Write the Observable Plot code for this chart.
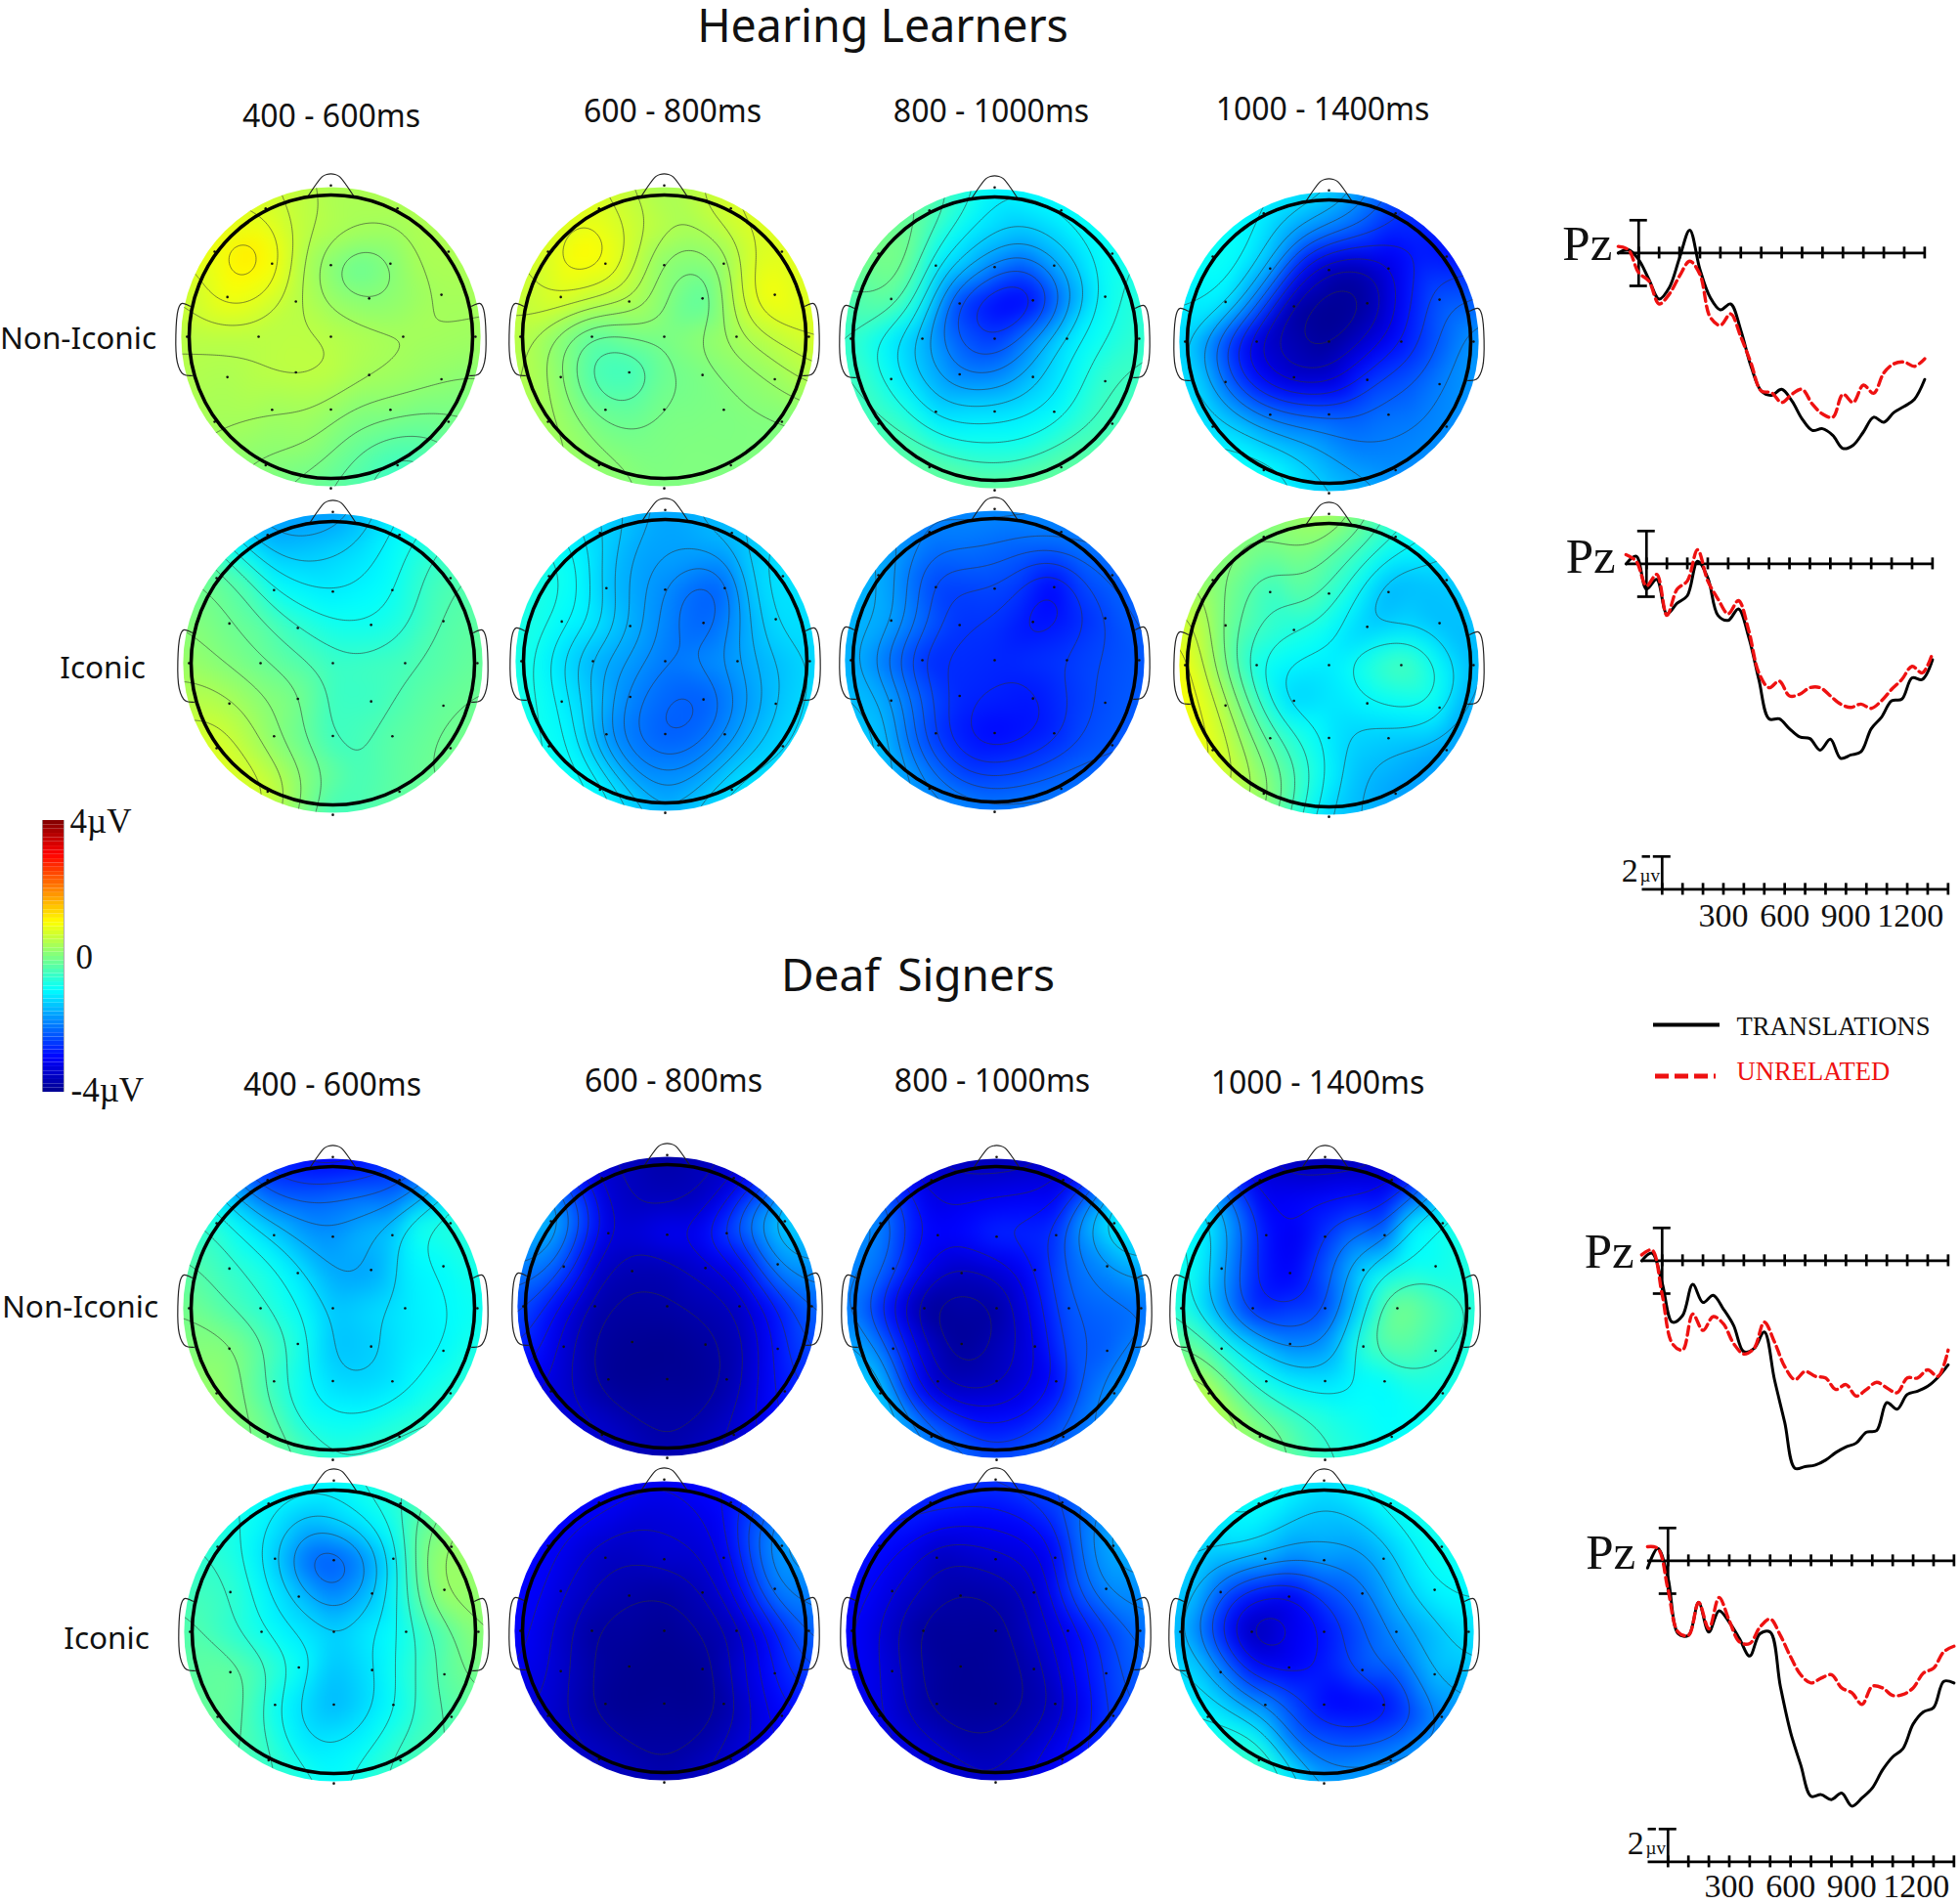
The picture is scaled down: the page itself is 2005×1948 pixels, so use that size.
<!DOCTYPE html>
<html><head><meta charset="utf-8">
<script src="https://cdn.jsdelivr.net/npm/d3@7"></script>
<script src="https://cdn.jsdelivr.net/npm/@observablehq/plot@0.6"></script>
<style>
html,body{margin:0;padding:0;background:#fff}
#fig{position:relative;width:2005px;height:1948px;overflow:hidden;background:#fff}
#fig>svg{position:absolute;overflow:visible;background:transparent}
.lab{position:absolute;transform:translate(-50%,-50%);white-space:nowrap;line-height:1;color:#111;font-family:"Noto Sans",sans-serif}
</style></head><body><div id="fig"></div>
<script>
// Scalp sites (head-radius units): the 29 plotted electrodes, then 18 read-off sites between them
const electrodeNames=["FPz","Fp1","Fp2","F7","F3","Fz","F4","F8","FT7","FC3","FC4","FT8","T7","C3","Cz","C4","T8","TP7","CP3","CP4","TP8","P7","P3","Pz","P4","P8","O1","Oz","O2"];
const siteX=[0,-.46,.47,-.82,-.415,0,.42,.83,-.73,-.247,.27,.78,-1.015,-.51,0,.51,1.02,-.73,-.247,.27,.78,-.82,-.415,0,.42,.83,-.46,0,.47,
  -.6,.6,-.2,.2,-.5,.52,-.5,.52,-.62,.62,-.2,.2,0,0,-.2,.2,-.2,.2];
const siteY=[1.067,.905,.905,.6,.516,.505,.516,.6,.28,.248,.27,.296,0,0,0,0,0,-.285,-.252,-.27,-.3,-.6,-.516,-.514,-.516,-.6,-.907,-1.07,-.907,
  .62,.62,.75,.75,.25,.27,-.27,-.27,-.62,-.62,-.78,-.78,.25,-.25,.5,.5,-.5,-.5];
// Amplitudes (µV) at those sites
const hearingNon400=[.35,.7,.35,.85,1,.05,0,.35,.95,.45,.05,.3,.45,.45,.45,.3,.25,.35,.5,.3,.15,.3,.25,.2,.05,-.1,.05,-.25,-.55, 1.25,.35,.5,.3,.75,.15,.45,.25,.3,-.15,.15,-.2,.2,.5,.35,-.25,.3,.05];
const hearingNon600=[.3,.75,.7,.7,.95,.05,.15,.75,.8,.4,-.35,1,.45,-.3,-.02,.3,.7,.1,-.55,-.05,.2,.3,-.2,-.05,-.02,0,.15,0,0, 1.1,.65,.6,.3,.5,.6,-.45,.1,.1,0,-.05,0,.05,-.15,.5,0,-.25,-.05];
const hearingNon800=[-1.05,-.3,-1,-.05,-1.1,-2,-1.7,-.9,-.2,-2.6,-3,-.95,-.6,-1.6,-2.6,-1.2,-.6,-1,-2,-1.5,-.55,-.45,-1.3,-1.25,-1.05,-.45,-.25,-.2,-.25, -.05,-1.2,-1.1,-1.5,-1,-1.9,-1.5,-1.1,-.6,-.6,-.8,-.8,-3,-2,-1.5,-2.4,-1.3,-1.2];
const hearingNon1000=[-1.3,-1.1,-2.6,-.9,-1.6,-3.7,-3.3,-2.9,-1.1,-3.85,-3.85,-2.3,-1.3,-3.4,-3.95,-2.9,-1.8,-2.2,-3.5,-2.6,-2,-1.2,-2.1,-2.25,-2.1,-1.9,-.9,-1.4,-1.9, -1,-2.8,-1.9,-2.4,-2.2,-3,-3,-2.4,-1.4,-2,-1.5,-2,-3.98,-3.5,-3.1,-3.8,-2.3,-2.3];
const hearingIco400=[-1.8,-1.7,-1,-.2,-.95,-1.15,-.95,-.4,-.15,-.6,-.9,-.35,.2,-.15,-.55,-.45,-.2,.35,-.05,-.55,-.2,.75,.05,-.55,-.3,-.1,.65,-.5,-.25, -.5,-.65,-1.4,-1.2,-.25,-.7,.1,-.35,.5,-.2,.05,-.45,-.85,-.55,-1.05,-1.05,-.2,-.45];
const hearingIco600=[-1.7,-1.3,-1.5,-.8,-1.5,-1.9,-2.25,-1.2,-1,-1.6,-2.25,-1.25,-.8,-1.6,-2.05,-1.75,-1.3,-1.1,-1.95,-2.3,-1.5,-.9,-1.9,-2.3,-1.95,-1.3,-1,-1.6,-1.2, -1,-1.35,-1.7,-1.75,-1.15,-1.8,-1.45,-1.9,-1.1,-1.5,-1.9,-1.9,-1.95,-2.2,-1.7,-2.2,-2.1,-2.25];
const hearingIco800=[-1.9,-2,-2,-1.6,-2.5,-2.45,-3.05,-2.2,-1.7,-2.6,-2.9,-2.5,-1.6,-2.65,-2.7,-2.55,-2.3,-1.75,-2.7,-2.85,-2.4,-1.4,-2.6,-3,-2.75,-2.3,-1.9,-2,-2.1, -2.1,-2.4,-2.15,-2.3,-2.2,-2.8,-2.3,-2.6,-2.1,-2.4,-2.6,-2.5,-2.6,-2.75,-2.5,-2.6,-2.85,-2.9];
const hearingIco1000=[.35,0,-.8,.1,-.6,-.55,-1.65,-1.4,-.15,-.75,-1.45,-1.55,.95,-.9,-1.15,-.35,-1.55,.35,-1.4,-1.05,-.95,.85,-.35,-1.15,-1.4,-1.75,.2,-1.35,-1.75, -.2,-1.5,-.05,-.6,-.5,-1.3,-.5,-.95,.3,-1.6,-.55,-1.5,-.95,-1.2,-.25,-1,-.8,-1.35];
const deafNon400=[-3.1,-2.6,-2.5,-.7,-1.35,-1.85,-1.45,-.7,-.6,-1.15,-1.75,-1,-.1,-.65,-1.45,-1.15,-.9,.05,-.75,-1.4,-1.05,.2,-.6,-1.3,-1.25,-.7,-.1,-.65,-.6, -1.2,-.8,-2.2,-2,-.75,-1.1,-.3,-1.15,-.1,-.9,-.9,-1,-1.7,-1.5,-1.75,-1.55,-.95,-1.35];
const deafNon600=[-3.8,-3.4,-3.4,-1.5,-3.3,-3.05,-2.5,-1.3,-2.4,-3.7,-3.4,-1.9,-2.4,-3.75,-3.8,-3.55,-2.2,-3.4,-3.95,-3.85,-2.9,-3.3,-3.95,-3.95,-3.8,-2.8,-3.4,-3.7,-3.4, -2.4,-1.9,-3.6,-3.6,-3.5,-3.1,-3.85,-3.65,-3.6,-3.3,-3.8,-3.8,-3.7,-3.98,-3.3,-3.1,-3.98,-3.95];
const deafNon800=[-3.7,-3.4,-3.3,-1.9,-3,-2.65,-2.65,-1,-2.4,-3.6,-2.9,-1.9,-2,-3.95,-3.85,-2.3,-2.1,-2.45,-3.95,-3.2,-2.3,-1.3,-3.6,-3.6,-3,-1.8,-2,-2.4,-2.2, -2.8,-1.7,-3.1,-3,-3.2,-2.2,-3.4,-2.35,-2.7,-2.2,-3,-2.9,-3.4,-3.65,-2.9,-2.7,-3.7,-3.3];
const deafNon1000=[-3.75,-3.3,-3.3,-1.1,-2.9,-2.6,-2.3,-.85,-1.7,-3.1,-1.3,-.95,-.7,-2.75,-2.5,0,-.7,-.75,-2,-.55,-.55,.5,-.9,-1.25,-1.05,-.85,.1,-.6,-1, -2.1,-1.1,-3,-2.8,-2.7,-.9,-1.4,-.25,-.25,-.9,-.55,-.9,-2.3,-1.9,-3.2,-2,-1.25,-1.05];
const deafIco400=[-1,-1,-.65,-.7,-1.4,-2.35,-1.2,.2,-.6,-1.45,-1.5,.3,-.35,-.9,-1.4,-.85,.1,-.2,-.9,-1.2,-.3,-.2,-.95,-1.6,-1,-.35,-.55,-1,-.5, -1,-.1,-1.6,-1.2,-1,-.6,-.5,-.7,-.4,-.6,-1.2,-1.05,-2,-1.5,-2.2,-2,-1.3,-1.35];
const deafIco600=[-3.1,-3,-2.9,-3,-3.55,-3.4,-3.2,-1.7,-3.3,-3.75,-3.6,-2,-3,-3.85,-3.95,-3.6,-2.2,-3.45,-3.95,-3.95,-2.9,-3.4,-3.95,-3.95,-3.85,-3,-3.5,-3.7,-3.4, -3.3,-2.4,-3.4,-3.3,-3.6,-3.1,-3.8,-3.4,-3.7,-3.4,-3.85,-3.85,-3.85,-3.98,-3.55,-3.45,-3.98,-3.98];
const deafIco800=[-2.6,-2.7,-2.4,-2.9,-3.6,-3.4,-3.1,-1.6,-3.3,-3.8,-3.5,-1.9,-3,-3.9,-3.9,-3.1,-2.1,-3.4,-3.95,-3.7,-2.6,-3.2,-3.9,-3.95,-3.6,-2.5,-3.3,-3.5,-3, -3.1,-2.1,-3.1,-3,-3.6,-2.5,-3.8,-3.1,-3.6,-3.1,-3.75,-3.6,-3.75,-3.9,-3.5,-3.3,-3.95,-3.8];
const deafIco1000=[-1.2,-.9,-.9,-1.3,-1.6,-1.75,-1.6,-.85,-2.3,-3.2,-2.1,-1.05,-1.5,-3.75,-2.9,-1.9,-1.2,-1.9,-3.1,-2.3,-1.5,-1,-1.9,-3,-3,-1.9,-.5,-1.7,-1.85, -1.2,-1.1,-1.5,-1.55,-2.9,-1.5,-2.9,-2.3,-1.25,-2.5,-2.2,-2.4,-2.5,-2.8,-2,-1.9,-2.5,-3.05];

// ERP waveforms at Pz (µV), one value per erpTimes entry
const erpTimes=[-100,-50,0,50,100,150,200,250,300,350,400,450,500,550,600,650,700,750,800,850,900,950,1000,1050,1100,1150,1200,1250,1300,1350,1400];
const hearingNonTrans=[0,.2,-.4,-1.6,-2.8,-2.1,-.3,1.4,-1,-2.7,-3.46,-3.1,-4.7,-6.9,-8.4,-8.66,-8.3,-9,-10.1,-10.8,-10.7,-11.1,-11.9,-11.7,-10.9,-10,-10.3,-9.7,-9.34,-8.9,-7.7];
const hearingNonUnrel=[.4,.2,-1.2,-1.7,-3.1,-2.5,-1.4,-.5,-1.3,-3.9,-4.4,-3.7,-5.1,-6.7,-8.4,-8.5,-9.1,-8.6,-8.3,-9.2,-9.8,-10,-8.6,-9.1,-8.04,-8.54,-7.3,-6.74,-6.64,-6.9,-6.44];
const hearingIcoTrans=[0,.46,-1.54,-.94,-3.04,-2.4,-1.94,.16,-.84,-3.14,-3.44,-2.74,-4.44,-7.04,-9.44,-9.44,-10.04,-10.54,-10.64,-11.34,-10.68,-11.84,-11.64,-11.44,-10.04,-9.34,-8.34,-8.24,-6.94,-7.04,-5.84];
const hearingIcoUnrel=[.56,.16,-1.34,-.64,-3.14,-1.54,-1.04,.86,-1.04,-2.14,-3.04,-2.24,-4.04,-6.64,-7.54,-7.14,-8.04,-7.94,-7.54,-7.54,-8.04,-8.54,-8.74,-8.54,-8.8,-8.34,-7.64,-7.04,-6.24,-6.64,-5.44];
const deafNonTrans=[0,.46,-1.34,-3.74,-3.34,-1.44,-2.54,-2.1,-2.94,-3.94,-5.54,-5.34,-4.34,-7.24,-9.84,-12.64,-12.54,-12.44,-12.14,-11.68,-11.34,-11.1,-10.44,-10.34,-8.64,-9.04,-8.14,-7.94,-7.64,-7.1,-6.34];
const deafNonUnrel=[.36,.66,-2.04,-5.04,-5.44,-3.24,-4.24,-3.4,-3.84,-5.04,-5.68,-5.34,-3.74,-4.94,-6.44,-7.24,-6.74,-7.04,-7.14,-7.84,-7.54,-8.24,-7.84,-7.4,-7.74,-8.04,-7.14,-7.14,-6.64,-7.04,-5.44];
const deafIcoTrans=[-.44,.76,-1.04,-4.44,-4.54,-2.54,-4.34,-3.04,-3.74,-4.74,-5.8,-4.44,-4.34,-7.64,-10.44,-12.44,-14.34,-14.24,-14.54,-14.14,-14.94,-14.44,-13.84,-12.74,-11.94,-11.44,-9.94,-9.2,-8.94,-7.34,-7.44];
const deafIcoUnrel=[.86,.76,-1.74,-4.34,-4.54,-2.54,-4.14,-2.24,-3.64,-4.94,-5.04,-4.04,-3.54,-4.54,-5.84,-6.94,-7.44,-7.14,-6.94,-7.74,-8.04,-8.74,-7.64,-7.74,-8.2,-8.14,-7.74,-6.84,-6.54,-5.54,-5.2];

const windows=["400 - 600ms","600 - 800ms","800 - 1000ms","1000 - 1400ms"];
const axisTicks=d3.range(0,1401,100);
const axisLabels=[300,600,900,1200];
const jetStops=[-4,-3,-1,1,3,4];
const jetColors=["#00008f","#0000ff","#00ffff","#ffff00","#ff0000","#800000"];
const colorScale={type:"linear",domain:jetStops,range:jetColors,clamp:true};
const fig=document.getElementById("fig");
const SERIF='"Liberation Serif",serif';

function place(el,left,top){el.style.left=left+"px";el.style.top=top+"px";fig.appendChild(el);}
function label(t,x,y,size,extra){const d=document.createElement("div");d.className="lab";d.textContent=t;d.style.left=x+"px";d.style.top=y+"px";d.style.fontSize=size+"px";if(extra)Object.assign(d.style,extra);fig.appendChild(d);}

// Topographic map
const R=145, HALF=178, UNIT=HALF/R;
const noseX=[-.165,-.06,-.03,.03,.06,.165], noseY=[.985,1.13,1.145,1.145,1.13,.985];
const earX=[.994,1.054,1.078,1.084,1.04,.98], earY=[.215,.234,.19,-.178,-.266,-.275];
let mapId=0;
function topo(values,cx,cy){
  const data=values.map((v,i)=>({x:siteX[i],y:siteY[i],v}));
  const real=data.slice(0,electrodeNames.length);
  const lo=d3.min(values), hi=d3.max(values);
  const levels=d3.range(1,11).map(k=>lo+(hi-lo)*k/11);
  const noseLine=noseX.map((x,i)=>({x,y:noseY[i]}));
  const earR=earX.map((x,i)=>({x,y:earY[i]}));
  const earL=earX.map((x,i)=>({x:-x,y:earY[i]}));
  const p=Plot.plot({width:HALF*2,height:HALF*2,margin:0,
    x:{domain:[-UNIT,UNIT],axis:null},y:{domain:[-UNIT,UNIT],axis:null},color:colorScale,
    marks:[
      Plot.raster(data,{x:"x",y:"y",fill:"v",interpolate:"barycentric",blur:10,pixelSize:1}),
      Plot.contour(data,{x:"x",y:"y",value:"v",interpolate:"barycentric",blur:10,pixelSize:2,thresholds:levels,stroke:"#333",strokeWidth:.7,strokeOpacity:.85,fill:"none"}),
      Plot.line(noseLine,{x:"x",y:"y",stroke:"#222",strokeWidth:1.2,curve:"catmull-rom"}),
      Plot.line(earR,{x:"x",y:"y",stroke:"#222",strokeWidth:1.2,curve:"catmull-rom"}),
      Plot.line(earL,{x:"x",y:"y",stroke:"#222",strokeWidth:1.2,curve:"catmull-rom"}),
      Plot.dot(real,{x:"x",y:"y",r:1.3,fill:"#111"}),
      Plot.dot([{x:0,y:0}],{x:"x",y:"y",r:R,stroke:"#000",strokeWidth:3.6,fill:"none"})
    ]});
  const id="rim"+(mapId++);
  const ns="http://www.w3.org/2000/svg";
  const cp=document.createElementNS(ns,"clipPath");cp.setAttribute("id",id);
  const c=document.createElementNS(ns,"circle");c.setAttribute("cx",HALF);c.setAttribute("cy",HALF);c.setAttribute("r",R*1.056);cp.appendChild(c);p.appendChild(cp);
  p.querySelectorAll('g[aria-label="raster"],g[aria-label="contour"]').forEach(g=>g.setAttribute("clip-path",`url(#${id})`));
  place(p,cx-HALF,cy-HALF);
}

const mapRows=[
 {maps:[hearingNon400,hearingNon600,hearingNon800,hearingNon1000],cx:[338,679,1017,1359],cy:[344,344,346,349]},
 {maps:[hearingIco400,hearingIco600,hearingIco800,hearingIco1000],cx:[340,680,1017,1359],cy:[678,676,675,680]},
 {maps:[deafNon400,deafNon600,deafNon800,deafNon1000],cx:[340,682,1019,1355],cy:[1338,1336,1338,1338]},
 {maps:[deafIco400,deafIco600,deafIco800,deafIco1000],cx:[341,679,1018,1354],cy:[1669,1668,1668,1669]}
];
mapRows.forEach(r=>r.maps.forEach((v,c)=>topo(v,r.cx[c],r.cy[c])));

// ERP panels
const PX=.209, PY=16.8, LEFT=-420, RIGHT=1420;
const W=(RIGHT-LEFT)*PX;
const AX=2.7;
const axisMarks=(ext)=>[
  Plot.ruleY([0],{x1:ext,x2:1400,stroke:"#000",strokeWidth:AX}),
  Plot.ruleX(axisTicks,{y1:-.36,y2:.36,stroke:"#000",strokeWidth:AX})
];
function erp(trans,unrel,barX,axisY,pzT,pzV){
  const rows=(vals)=>vals.map((v,i)=>({t:erpTimes[i],v}));
  const p=Plot.plot({width:W,height:19*PY,margin:0,
    x:{domain:[LEFT,RIGHT],axis:null},y:{domain:[-16,3],axis:null},
    marks:[
      ...axisMarks(-100),
      Plot.ruleX([0],{y1:-2,y2:2,stroke:"#000",strokeWidth:AX}),
      Plot.ruleY([2,-2],{x1:-43,x2:43,stroke:"#000",strokeWidth:AX}),
      Plot.text(["Pz"],{x:pzT,y:pzV,textAnchor:"end",fontSize:51,fontFamily:SERIF,fill:"#111"}),
      Plot.line(rows(trans),{x:"t",y:"v",stroke:"#000",strokeWidth:3,curve:"catmull-rom"}),
      Plot.line(rows(unrel),{x:"t",y:"v",stroke:"#ee1111",strokeWidth:3.4,strokeDasharray:"9,5",curve:"catmull-rom"})
    ]});
  place(p,barX+LEFT*PX,axisY-3*PY);
}
erp(hearingNonTrans,hearingNonUnrel,1676,258,-129,.52);
erp(hearingIcoTrans,hearingIcoUnrel,1684,576,-151,.45);
erp(deafNonTrans,deafNonUnrel,1700,1289,-137,.55);
erp(deafIcoTrans,deafIcoUnrel,1706,1596,-158,.5);

function scaleBar(barX,axisY,labelV){
  const p=Plot.plot({width:W,height:6*PY,margin:0,
    x:{domain:[LEFT,RIGHT],axis:null},y:{domain:[-3,3],axis:null},
    marks:[
      ...axisMarks(-97),
      Plot.ruleX([0],{y1:0,y2:2,stroke:"#000",strokeWidth:AX}),
      Plot.ruleY([2],{x1:-43,x2:43,stroke:"#000",strokeWidth:AX}),
      Plot.ruleY([2],{x1:-97,x2:-57,stroke:"#000",strokeWidth:AX}),
      Plot.text(["2"],{x:-158,y:1.1,fontSize:34,fontFamily:SERIF,fill:"#111"}),
      Plot.text(["µv"],{x:-60,y:.86,fontSize:19,fontFamily:SERIF,fill:"#111"}),
      Plot.text(axisLabels,{x:d=>d===1200?1215:d,y:labelV,text:d=>String(d),fontSize:34,fontFamily:SERIF,fill:"#111"})
    ]});
  place(p,barX+LEFT*PX,axisY-3*PY);
}
scaleBar(1700,909,-1.65);
scaleBar(1706,1904,-1.5);

// Condition key
const legendNames=["TRANSLATIONS","UNRELATED"];
{
  const p=Plot.plot({width:320,height:90,margin:0,x:{domain:[0,320],axis:null},y:{domain:[90,0],axis:null},
    marks:[
      Plot.ruleY([13],{x1:1,x2:69,stroke:"#000",strokeWidth:4}),
      Plot.ruleY([65.5],{x1:3,x2:65,stroke:"#ee1111",strokeWidth:5,strokeDasharray:"14,6"}),
      Plot.text([legendNames[0]],{x:86,y:15,textAnchor:"start",fontSize:26.6,fontFamily:SERIF,fill:"#111"}),
      Plot.text([legendNames[1]],{x:86,y:61,textAnchor:"start",fontSize:26.6,fontFamily:SERIF,fill:"#ee1111"})
    ]});
  place(p,1690,1035);
}

// Colour bar
const levels=d3.range(64).map(i=>-4+i/8);
{
  const p=Plot.plot({width:150,height:310,margin:0,marginTop:16,marginBottom:16,
    x:{domain:[0,150],axis:null},y:{domain:[-4,4],axis:null},color:colorScale,
    marks:[
      Plot.rect(levels,{x1:3,x2:25,y1:d=>d,y2:d=>d+1/8,fill:d=>d+1/16}),
      Plot.ruleX([3,25],{stroke:"#999",strokeWidth:.8}),
      Plot.text(["4µV"],{x:31,y:3.95,textAnchor:"start",fontSize:35,fontFamily:SERIF,fill:"#111"}),
      Plot.text(["0"],{x:37,y:-.03,textAnchor:"start",fontSize:35,fontFamily:SERIF,fill:"#111"}),
      Plot.text(["-4µV"],{x:32,y:-3.95,textAnchor:"start",fontSize:35,fontFamily:SERIF,fill:"#111"})
    ]});
  place(p,40,823);
}

// Titles and labels
label("Hearing Learners",903,24.5,46.5);
label("Deaf Signers",939,996,46,{wordSpacing:"6px"});
[[339,118],[688,113],[1014,113],[1353,111]].forEach(([x,y],i)=>label(windows[i],x,y,32));
[[340,1109],[689,1105],[1015,1105],[1348,1107]].forEach(([x,y],i)=>label(windows[i],x,y,32));
label("Non-Iconic",80,345,31.5);
label("Iconic",105,682,31.5);
label("Non-Iconic",82,1336,31.5);
label("Iconic",109,1675,31.5);
</script></body></html>
